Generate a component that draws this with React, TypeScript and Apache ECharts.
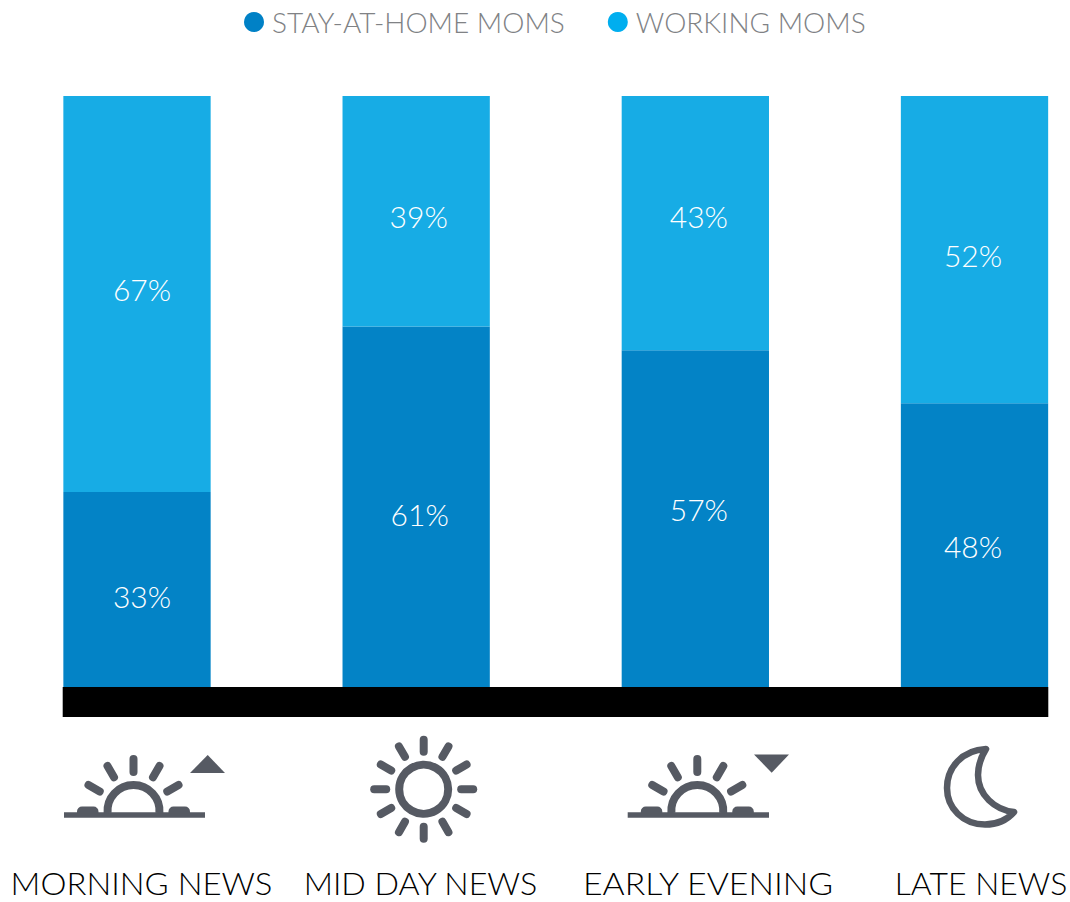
import React, { useEffect, useRef } from "react";
import * as echarts from "echarts";

const categories = ["MORNING NEWS", "MID DAY NEWS", "EARLY EVENING", "LATE NEWS"];
const stayAtHome = [33, 61, 57, 48];
const working = [67, 39, 43, 52];
const legendNames = ["STAY-AT-HOME MOMS", "WORKING MOMS"];

// Value labels sit slightly off the centre of their segments.
const stayLabelShift = [[5, 6.5], [3.5, 7.5], [3.5, -10], [-1.5, 1]];
const workingLabelShift = [[5, -5], [2.5, 5], [3.5, -7], [-1.5, 5]];
// Caption centres and horizontal stretch under each bar.
const captionX = [141.5, 420.5, 708, 981];
const captionStretch = [1.06, 1.04, 1.09, 1.03];

const FONT = "Lato";
const ICON = "#565A63";
const DEG = Math.PI / 180;

echarts.graphic.registerShape(
  "moonIcon",
  echarts.graphic.extendPath(
    "M986 749 C962 750 947 768 947 788 C947 808 963 824.5 985 824.5 C997 824.5 1007 820 1014 812 C995 810 978 795 978 775 C978 765 981 757 986 749 Z",
    {}
  )
);

function ray(cx: number, cy: number, angle: number, r0: number, r1: number) {
  const s = Math.sin(angle * DEG);
  const c = Math.cos(angle * DEG);
  return {
    type: "line",
    shape: { x1: cx + r0 * s, y1: cy - r0 * c, x2: cx + r1 * s, y2: cy - r1 * c },
    style: { stroke: ICON, lineWidth: 8, lineCap: "round" },
    silent: true,
  };
}

function horizonSun(x0: number, x1: number, cx: number) {
  const cy = 811;
  const parts: any[] = [
    { type: "rect", shape: { x: x0, y: 812.3, width: x1 - x0, height: 5.4 }, style: { fill: ICON } },
    { type: "rect", shape: { x: cx - 56.5, y: 806.5, width: 21.5, height: 7, r: [5, 5, 0, 0] }, style: { fill: ICON } },
    { type: "rect", shape: { x: cx + 35, y: 806.5, width: 21.5, height: 7, r: [5, 5, 0, 0] }, style: { fill: ICON } },
    {
      type: "arc",
      shape: { cx, cy, r: 26, startAngle: Math.PI - 0.08, endAngle: 2 * Math.PI + 0.08, clockwise: true },
      style: { stroke: ICON, fill: "none", lineWidth: 8 },
    },
  ];
  [-60, -30, 0, 30, 60].forEach((a) => parts.push(ray(cx, cy, a, 39, 52)));
  return parts;
}

function fullSun(cx: number, cy: number) {
  const parts: any[] = [
    { type: "circle", shape: { cx, cy, r: 24.5 }, style: { stroke: ICON, fill: "none", lineWidth: 8 } },
  ];
  for (let a = 0; a < 360; a += 30) parts.push(ray(cx, cy, a, 37.5, 49.5));
  return parts;
}

export default function App() {
  const ref = useRef<HTMLDivElement>(null);

  useEffect(() => {
    document.body.style.margin = "0";
    const chart = echarts.init(ref.current!, null, { renderer: "svg" });

    const segmentLabel = { show: true, color: "#ffffff", fontFamily: FONT, fontWeight: 300, fontSize: 30, formatter: "{c}%" };
    const withShift = (values: number[], shifts: number[][]) =>
      values.map((value, i) => ({ value, label: { offset: shifts[i] } }));

    chart.setOption({
      animation: false,
      backgroundColor: "#ffffff",
      legend: {
        left: 244,
        top: 8,
        padding: 0,
        icon: "circle",
        itemWidth: 20,
        itemHeight: 20,
        itemGap: 43,
        selectedMode: false,
        textStyle: { fontFamily: FONT, fontWeight: 300, fontSize: 28, color: "#808285", padding: [0, 0, 0, 3] },
        data: [
          { name: legendNames[0], itemStyle: { color: "#0081C6" } },
          { name: legendNames[1], itemStyle: { color: "#00AEEF" } },
        ],
      },
      grid: { left: -2.58, top: 96, width: 1116.67, height: 591, outerBoundsMode: "none" },
      xAxis: {
        type: "category",
        data: categories,
        axisLine: { show: false },
        axisTick: { show: false },
        axisLabel: { show: false },
      },
      yAxis: { type: "value", min: 0, max: 100, show: false },
      series: [
        {
          name: legendNames[0],
          type: "bar",
          stack: "moms",
          barWidth: 147.3,
          data: withShift(stayAtHome, stayLabelShift),
          itemStyle: { color: "#0383C6" },
          label: segmentLabel,
        },
        {
          name: legendNames[1],
          type: "bar",
          stack: "moms",
          barWidth: 147.3,
          data: withShift(working, workingLabelShift),
          itemStyle: { color: "#17ACE5" },
          label: segmentLabel,
        },
      ],
      graphic: [
        { type: "rect", shape: { x: 62.7, y: 687, width: 985.6, height: 30 }, style: { fill: "#000000" } },
        ...horizonSun(64, 205, 133.5),
        { type: "polygon", shape: { points: [[190, 773], [225, 773], [207.7, 755]] }, style: { fill: ICON } },
        ...fullSun(423.7, 789.3),
        ...horizonSun(627.7, 769, 697.3),
        { type: "polygon", shape: { points: [[754, 754.5], [789, 754.5], [771.7, 772.7]] }, style: { fill: ICON } },
        {
          type: "moonIcon",
          style: { stroke: ICON, fill: "none", lineWidth: 6.5, lineJoin: "round" },
        },
        ...categories.map((name, i) => ({
          type: "text",
          x: captionX[i],
          y: 883,
          scaleX: captionStretch[i],
          style: {
            text: name,
            fill: "#000000",
            fontFamily: FONT,
            fontWeight: 300,
            fontSize: 31,
            textAlign: "center",
            textVerticalAlign: "middle",
          },
        })),
      ],
    });

    return () => chart.dispose();
  }, []);

  return <div ref={ref} style={{ width: 1070, height: 902 }} />;
}
